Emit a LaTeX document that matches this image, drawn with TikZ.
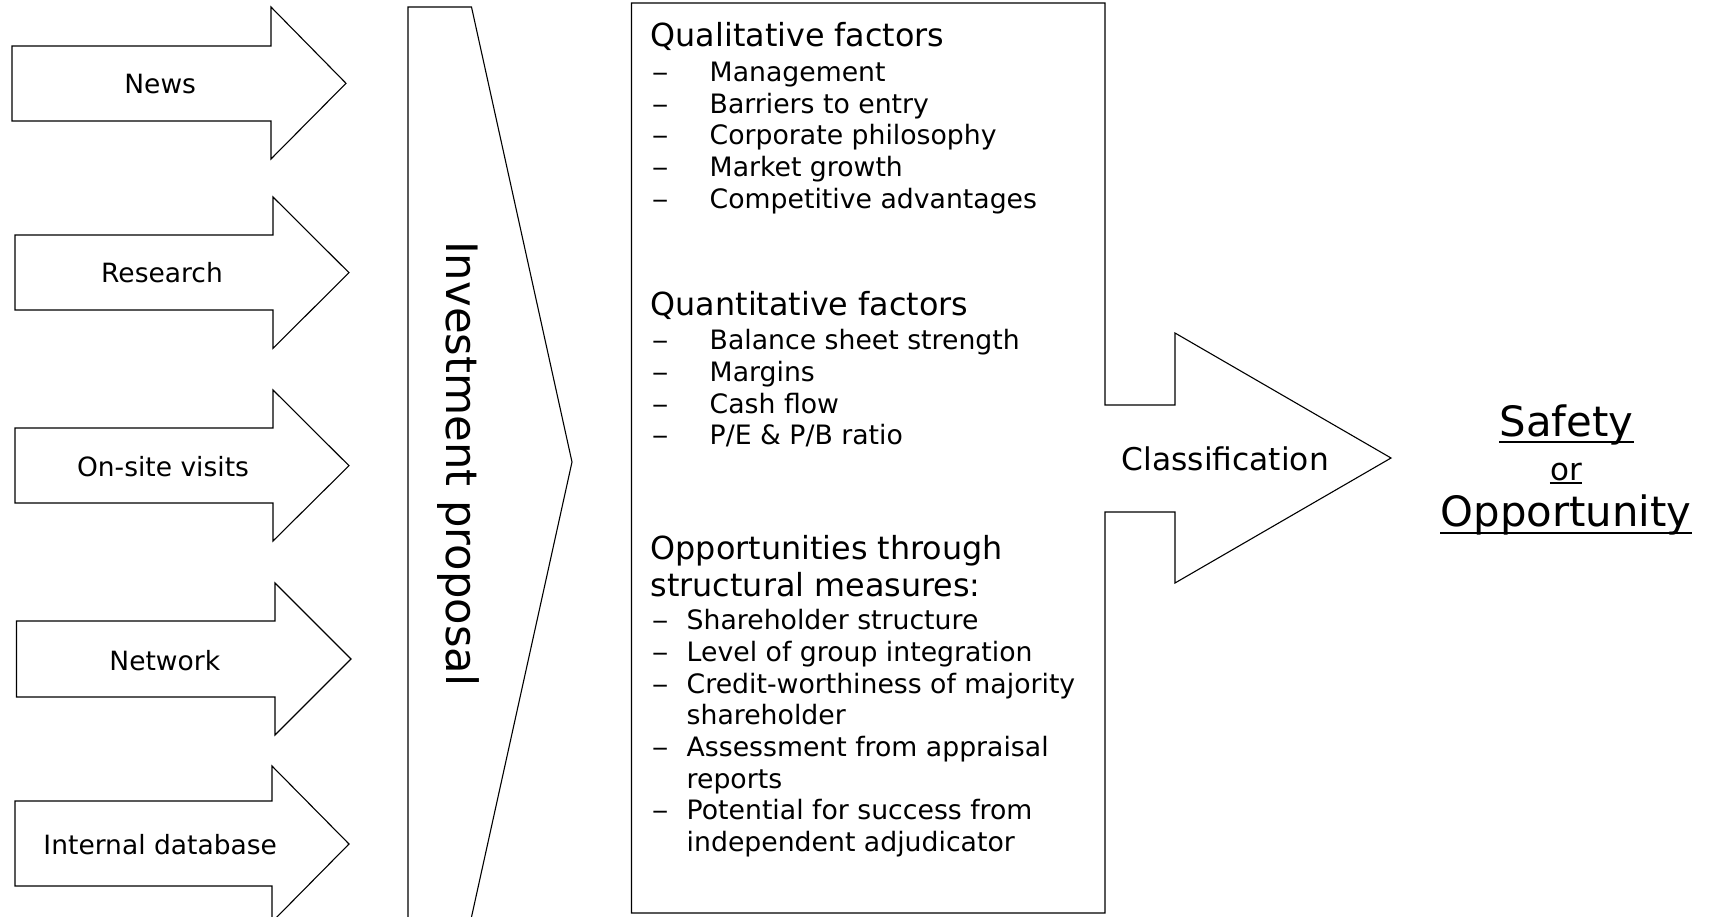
\documentclass[tikz,border=0pt]{standalone}
\usepackage{fontspec}
\setmainfont{DejaVu Sans}
\begin{document}
\begin{tikzpicture}[x=1pt,y=-1pt,
  shp/.style={draw=black, line width=1.1pt, line join=miter, fill=white},
  lbl/.style={inner sep=0pt, anchor=base, font=\fontsize{26.5}{32}\selectfont},
  item/.style={inner sep=0pt, anchor=base west, font=\fontsize{26.7}{32}\selectfont},
  dsh/.style={inner sep=0pt, anchor=base west, font=\fontsize{26.7}{32}\selectfont, xscale=1.25},
  ttl/.style={inner sep=0pt, anchor=base west, font=\fontsize{31.8}{37}\selectfont},
  ul/.style={line width=2pt}]
\useasboundingbox (0,0) rectangle (1710,917);
\clip (0,0) rectangle (1710,917);

% input arrows
\draw[shp] (12,46) -- (271,46) -- (271,7) -- (346,83.3) -- (271,159) -- (271,121) -- (12,121) -- cycle;
\draw[shp] (15,235) -- (273,235) -- (273,197) -- (349,272.7) -- (273,348.3) -- (273,310) -- (15,310) -- cycle;
\draw[shp] (15,428) -- (273,428) -- (273,390) -- (349,465.7) -- (273,541) -- (273,503) -- (15,503) -- cycle;
\draw[shp] (16.5,621) -- (275,621) -- (275,583) -- (351,659) -- (275,735) -- (275,697) -- (16.5,697) -- cycle;
\draw[shp] (15,801) -- (272,801) -- (272,766) -- (349,844) -- (272,922) -- (272,886) -- (15,886) -- cycle;

\node[lbl] (news) at (160.2,93.8) {News};
\node[lbl] (research) at (162,282.7) {Research};
\node[lbl] (onsite) at (163,476) {On-site visits};
\node[lbl] (network) at (164.8,670) {Network};
\node[lbl] (intdb) at (160.2,854.3) {Internal database};

% investment proposal
\draw[shp] (408,930) -- (408,7) -- (471.5,7) -- (572,462) -- (471.5,917) -- (469,930);
\node[inner sep=0pt, anchor=base west, rotate=-90, font=\fontsize{43.3}{50}\selectfont] (ip) at (446.7,241) {Investment proposal};

% factor box with classification arrow
\draw[shp] (631.5,3) -- (1105,3) -- (1105,405) -- (1175,405) -- (1175,333) -- (1391,458)
  -- (1175,583) -- (1175,512) -- (1105,512) -- (1105,913) -- (631.5,913) -- cycle;

\node[ttl] (qualt) at (650.5,46.5) {Qualitative factors};
\foreach \t [count=\i] in {Management,Barriers to entry,Corporate philosophy,Market growth,Competitive advantages} {
  \node[item] (ql\i) at (709.5,{81.3+31.8*(\i-1)}) {\t};
  \node[dsh] (qld\i) at (651.7,{81.3+31.8*(\i-1)}) {–};
}
\node[ttl] (quant) at (650.5,316) {Quantitative factors};
\foreach \t [count=\i] in {Balance sheet strength,Margins,Cash flow,P/E \& P/B ratio} {
  \node[item] (qn\i) at (709.5,{349.5+31.8*(\i-1)}) {\t};
  \node[dsh] (qnd\i) at (651.7,{349.5+31.8*(\i-1)}) {–};
}
\node[ttl] (oppt1) at (650.5,559) {Opportunities through};
\node[ttl] (oppt2) at (650.5,596) {structural measures:};
\foreach \t [count=\i] in {Shareholder structure,Level of group integration,Credit-worthiness of majority,shareholder,Assessment from appraisal,reports,Potential for success from,independent adjudicator} {
  \node[item] (op\i) at (686.5,{629.7+31.7*(\i-1)}) {\t};
}
\foreach \i in {1,2,3,5,7} {
  \node[dsh] (opd\i) at (651.7,{629.7+31.7*(\i-1)}) {–};
}

\node[inner sep=0pt, anchor=base west, font=\fontsize{31.3}{37}\selectfont] (cls) at (1121.5,470.5) {Classification};

% result
\node[inner sep=0pt, anchor=base, font=\fontsize{41.8}{48}\selectfont] (safety) at (1566.5,436.7) {Safety};
\node[inner sep=0pt, anchor=base, font=\fontsize{31}{36}\selectfont] (or) at (1566,480) {or};
\node[inner sep=0pt, anchor=base, font=\fontsize{41.8}{48}\selectfont] (opp) at (1566,526.7) {Opportunity};
\draw[ul] ([yshift=-5.6pt]safety.base west) -- ([yshift=-5.6pt]safety.base east);
\draw[ul] ([yshift=-2.5pt]or.base west) -- ([yshift=-2.5pt]or.base east);
\draw[ul] ([yshift=-6.6pt]opp.base west) -- ([yshift=-6.6pt]opp.base east);
\end{tikzpicture}
\end{document}
